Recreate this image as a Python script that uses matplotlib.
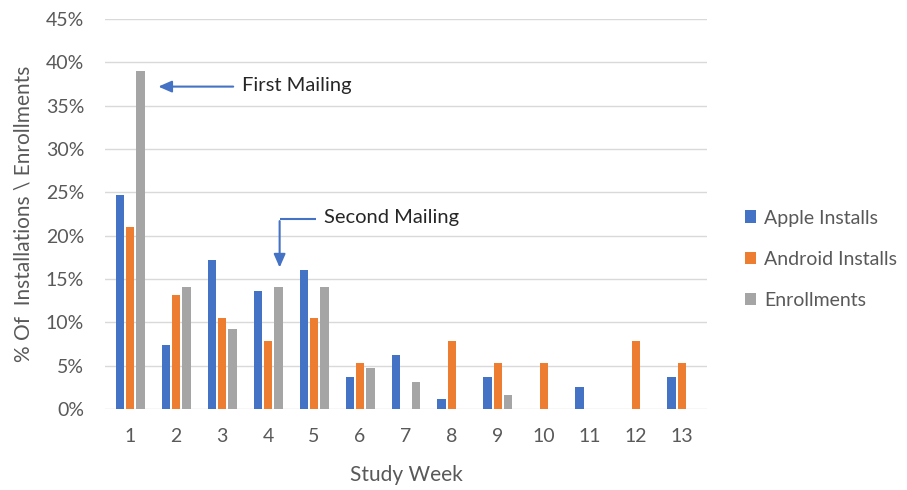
import matplotlib
matplotlib.use("Agg")
import matplotlib.pyplot as plt
import numpy as np

weeks = [str(i) for i in range(1, 14)]
apple = [24.7, 7.4, 17.2, 13.6, 16.0, 3.7, 6.2, 1.2, 3.7, 0, 2.5, 0, 3.7]
android = [21.0, 13.1, 10.5, 7.8, 10.5, 5.3, 0, 7.8, 5.3, 5.3, 0, 7.8, 5.3]
enroll = [39.0, 14.1, 9.2, 14.1, 14.1, 4.7, 3.1, 0, 1.6, 0, 0, 0, 0]
series_names = ["Apple Installs", "Android Installs", "Enrollments"]
colors = ["#4472C4", "#ED7D31", "#A5A5A5"]

plt.rcParams['font.family'] = ['Lato', 'DejaVu Sans']

fig = plt.figure(figsize=(9.07, 4.9), dpi=100)
ax = fig.add_axes([105/907, 1-409/490, (707-105)/907, (409-19)/490])

x = np.arange(1, 14)
w = 0.18
step = 0.225
for i, (vals, name, c) in enumerate(zip([apple, android, enroll], series_names, colors)):
    ax.bar(x + (i-1)*step, vals, width=w, color=c, label=name, zorder=3)

ax.set_xlim(0.45, 13.55)
ax.set_ylim(0, 45)
ax.set_yticks(np.arange(0, 46, 5))
ax.set_yticklabels([f"{v}%" for v in range(0, 46, 5)])
ax.set_xticks(x)
ax.set_xticklabels(weeks)
ax.grid(axis='y', color='#d9d9d9', linewidth=1, zorder=0)
for s in ax.spines.values():
    s.set_visible(False)
ax.tick_params(length=0, labelsize=14, colors='#595959')
ax.tick_params(axis='y', pad=15)
ax.tick_params(axis='x', pad=14)
ax.set_xlabel("Study Week", fontsize=15, color='#595959', labelpad=14)
ax.set_ylabel("% Of  Installations \\ Enrollments", fontsize=15, color='#595959', labelpad=9)

arrow_c = "#4472C4"
ax.annotate("", xy=(1.55, 37.2), xytext=(3.3, 37.2),
            arrowprops=dict(arrowstyle="-|>,head_length=0.8,head_width=0.35", color=arrow_c, lw=1.5))
ax.text(3.43, 37.3, "First Mailing", fontsize=14.5, color='#262626', va='center', ha='left')

ax.plot([5.05, 4.25], [21.9, 21.9], color=arrow_c, lw=1.5, solid_capstyle='butt')
ax.annotate("", xy=(4.25, 16.0), xytext=(4.25, 22.0),
            arrowprops=dict(arrowstyle="-|>,head_length=0.8,head_width=0.35", color=arrow_c, lw=1.5))
ax.text(5.22, 22.1, "Second Mailing", fontsize=14.5, color='#262626', va='center', ha='left')

fig.legend(loc='upper left', bbox_to_anchor=(727/907, 1-192/490), frameon=False,
           fontsize=14, labelcolor='#595959', handlelength=0.6, handleheight=0.6,
           handletextpad=0.4, labelspacing=1.25)

fig.savefig("out.png", dpi=100)
